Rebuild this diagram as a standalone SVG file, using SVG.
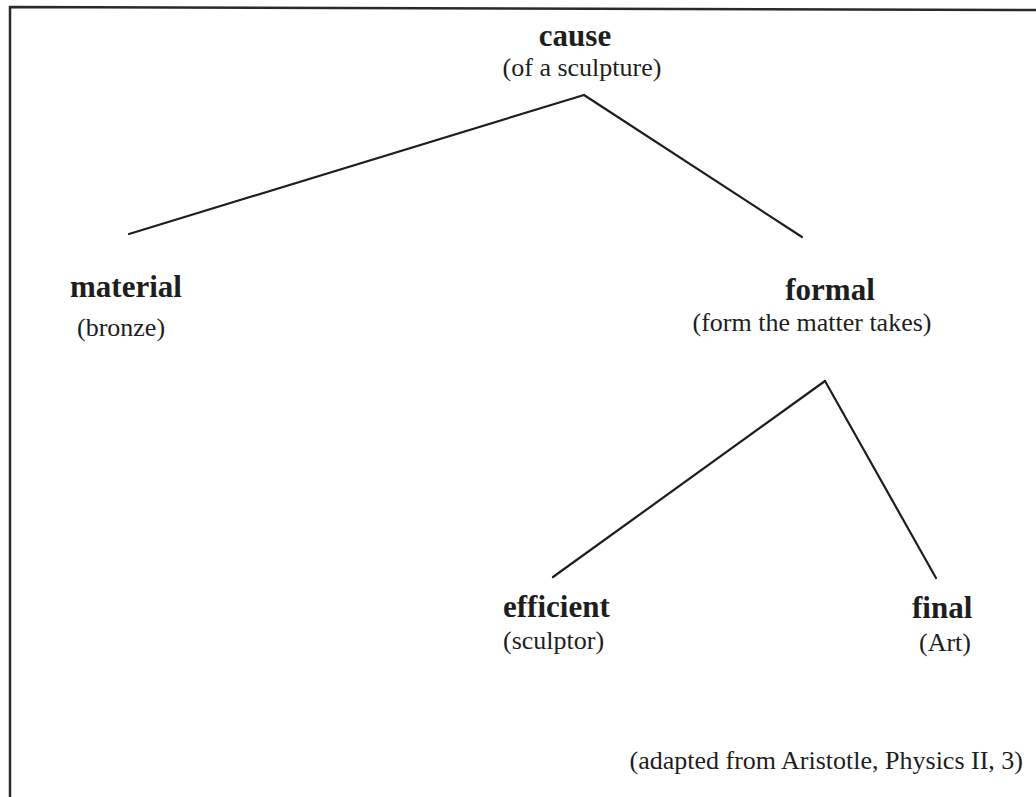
<svg xmlns="http://www.w3.org/2000/svg" width="1036" height="797" viewBox="0 0 1036 797">
  <style>
    .head { font-family: "Liberation Serif", "Times New Roman", serif; font-weight: bold; font-size: 31px; fill: #1e1e1e; }
    .note { font-family: "Liberation Serif", "Times New Roman", serif; font-size: 26px; fill: #1e1e1e; }
    .edge { stroke: #1e1e1e; stroke-width: 2.2; fill: none; stroke-linecap: round; }
    .frame { stroke: #2a2a2a; stroke-width: 2.5; fill: none; }
  </style>
  <rect width="1036" height="797" fill="#ffffff"/>
  <!-- open frame: top and left rules -->
  <polyline class="frame" points="1036,10 10,7 10,797"/>

  <g id="connectors">
    <line class="edge" x1="584" y1="95" x2="129" y2="234"/>
    <line class="edge" x1="584" y1="95" x2="802" y2="237"/>
    <line class="edge" x1="825" y1="381" x2="553" y2="577"/>
    <line class="edge" x1="825" y1="381" x2="936" y2="578"/>
  </g>

  <g id="node-cause">
    <text class="head" x="575" y="46" text-anchor="middle">cause</text>
    <text class="note" x="582" y="76" text-anchor="middle">(of a sculpture)</text>
  </g>
  <g id="node-material">
    <text class="head" x="70" y="297">material</text>
    <text class="note" x="77" y="336">(bronze)</text>
  </g>
  <g id="node-formal">
    <text class="head" x="830" y="300" text-anchor="middle">formal</text>
    <text class="note" x="812" y="331" text-anchor="middle">(form the matter takes)</text>
  </g>
  <g id="node-efficient">
    <text class="head" x="503" y="617">efficient</text>
    <text class="note" x="503" y="649">(sculptor)</text>
  </g>
  <g id="node-final">
    <text class="head" x="912" y="618">final</text>
    <text class="note" x="919" y="651">(Art)</text>
  </g>
  <g id="source">
    <text class="note" x="1023" y="769" text-anchor="end">(adapted from Aristotle, Physics II, 3)</text>
  </g>
</svg>
